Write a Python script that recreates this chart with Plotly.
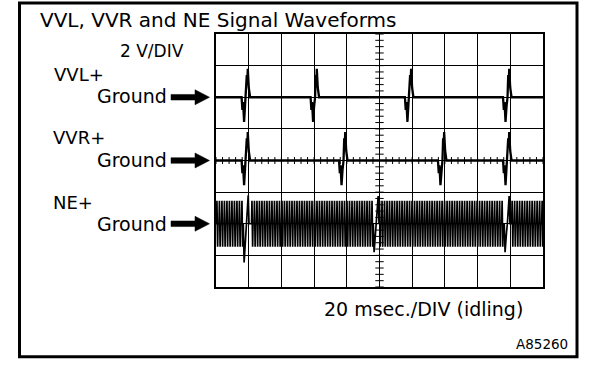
import plotly.graph_objects as go

# ---------------- data ----------------
MS_PER_DIV = 20          # 20 msec./DIV
VOLT_PER_DIV = 2         # 2 V/DIV

# zero-crossing time (ms) of each cam sensor pulse
VVL_PULSE_MS = [18.4, 60.6, 118.3, 178.3]
VVR_PULSE_MS = [18.4, 78.0, 138.5, 178.3]
# shape of one cam pulse: time offset (ms) and voltage (V)
PULSE_T_MS = [-2.75, -2.26, -1.83, -1.22, -0.61, 0.0, 0.43, 0.73, 1.04, 1.65, 2.45]
PULSE_V = [0.0, -0.8, -0.3, -1.56, -0.6, 0.0, 1.4, 0.8, 1.8, 0.6, 0.0]

# crank (NE) signal: missing-tooth positions and spike voltages
NE_GAP_MS = [18.4, 97.9, 178.0]
NE_GAP_LOW_V = [-2.45, -1.8, -1.8]
NE_GAP_HIGH_V = [1.8, 1.75, 1.75]
NE_TOOTH_PERIOD_MS = 1.53
NE_TOOTH_PHASE_MS = 0.3
NE_TOOTH_V = 1.45
TOOTH_T_FRAC = [0.0, 0.18, 0.45, 0.6]
TOOTH_V_FRAC = [0.0, 1.0, -1.0, 0.0]
GAP_T_MS = [-1.7, -1.2, -0.3, 0.2, 1.3, 1.8]

# trace ground levels (V on the 0..16 V screen, 8 divisions)
VVL_GROUND_V = 12
VVR_GROUND_V = 8
NE_GROUND_V = 4
SCREEN_MS = 200
SCREEN_V = 16


def cam_trace(pulses, ground):
    xs, ys = [0.0], [ground]
    for p in pulses:
        for dt, v in zip(PULSE_T_MS, PULSE_V):
            xs.append(p + dt)
            ys.append(ground + v)
    xs.append(SCREEN_MS)
    ys.append(ground)
    return xs, ys


def ne_trace(ground):
    events = []
    for g, lo, hi in zip(NE_GAP_MS, NE_GAP_LOW_V, NE_GAP_HIGH_V):
        vals = [0.0, lo, lo * 0.3, 0.0, hi, 0.0]
        events.append((g + GAP_T_MS[0], [(g + dt, v) for dt, v in zip(GAP_T_MS, vals)]))
    t = NE_TOOTH_PHASE_MS
    while t < SCREEN_MS:
        end = t + TOOTH_T_FRAC[-1] * NE_TOOTH_PERIOD_MS
        clash = any(g + GAP_T_MS[0] < end and t < g + GAP_T_MS[-1] for g in NE_GAP_MS)
        if not clash:
            events.append((t, [(t + f * NE_TOOTH_PERIOD_MS, a * NE_TOOTH_V)
                               for f, a in zip(TOOTH_T_FRAC, TOOTH_V_FRAC)]))
        t += NE_TOOTH_PERIOD_MS
    events.sort(key=lambda e: e[0])
    xs, ys = [0.0], [ground]
    for _, pts in events:
        for x, v in pts:
            xs.append(x)
            ys.append(ground + v)
    xs.append(SCREEN_MS)
    ys.append(ground)
    return xs, ys


# ---------------- figure ----------------
W, H = 608, 374
PLOT_X0, PLOT_X1 = 216, 543      # pixels of the graticule
PLOT_Y0, PLOT_Y1 = 34, 287
L, T = PLOT_X0, PLOT_Y0
R, B = W - PLOT_X1, H - PLOT_Y1
PW, PH = PLOT_X1 - PLOT_X0, PLOT_Y1 - PLOT_Y0


def px(x):
    return (x - PLOT_X0) / PW


def py(y):
    return (PLOT_Y1 - y) / PH


FONT = "DejaVu Sans"
fig = go.Figure()

vx, vy = cam_trace(VVL_PULSE_MS, VVL_GROUND_V)
rx, ry = cam_trace(VVR_PULSE_MS, VVR_GROUND_V)
nx, ny = ne_trace(NE_GROUND_V)

# graticule centre-line minor ticks
tick_y = [i * 0.4 for i in range(41)]
tick_x = [i * 4 for i in range(51)]
fig.add_trace(go.Scatter(x=[SCREEN_MS / 2] * len(tick_y), y=tick_y, mode="markers",
                         marker=dict(symbol="line-ew", size=6, line=dict(color="black", width=1)),
                         hoverinfo="skip", showlegend=False))
fig.add_trace(go.Scatter(x=tick_x, y=[SCREEN_V / 2] * len(tick_x), mode="markers",
                         marker=dict(symbol="line-ns", size=5, line=dict(color="black", width=1)),
                         hoverinfo="skip", showlegend=False))

fig.add_trace(go.Scatter(x=vx, y=vy, mode="lines", line=dict(color="black", width=2.3),
                         name="VVL+", showlegend=False))
fig.add_trace(go.Scatter(x=rx, y=ry, mode="lines", line=dict(color="black", width=2.3),
                         name="VVR+", showlegend=False))
fig.add_trace(go.Scatter(x=nx, y=ny, mode="lines", line=dict(color="black", width=1.7),
                         name="NE+", showlegend=False))

fig.update_xaxes(range=[0, SCREEN_MS], dtick=MS_PER_DIV, showgrid=True, gridcolor="black",
                 gridwidth=1, showline=True, linecolor="black", linewidth=2, mirror=True,
                 zeroline=False, showticklabels=False, ticks="", fixedrange=True)
fig.update_yaxes(range=[0, SCREEN_V], dtick=VOLT_PER_DIV, showgrid=True, gridcolor="black",
                 gridwidth=1, showline=True, linecolor="black", linewidth=2, mirror=True,
                 zeroline=False, showticklabels=False, ticks="", fixedrange=True)

shapes = [dict(type="rect", xref="paper", yref="paper",
               x0=px(19.5), x1=px(577), y0=py(356.7), y1=py(3),
               line=dict(color="black", width=3), fillcolor="rgba(0,0,0,0)", layer="above")]


def arrow(gy):
    pts = [(171, gy - 2.8), (195, gy - 2.8), (195, gy - 7.5), (209.5, gy),
           (195, gy + 7.5), (195, gy + 2.8), (171, gy + 2.8)]
    d = "M " + " L ".join(f"{px(a):.5f},{py(b):.5f}" for a, b in pts) + " Z"
    return dict(type="path", xref="paper", yref="paper", path=d,
                fillcolor="black", line=dict(color="black", width=0.5), layer="above")


for gv in (VVL_GROUND_V, VVR_GROUND_V, NE_GROUND_V):
    gy = PLOT_Y1 - gv / SCREEN_V * PH
    shapes.append(arrow(gy))


def label(text, x, y, size, anchor="left"):
    return dict(text=text, x=px(x), y=py(y), xref="paper", yref="paper", showarrow=False,
                xanchor=anchor, yanchor="middle", font=dict(family=FONT, size=size, color="black"))


annotations = [
    label("VVL, VVR and NE Signal Waveforms", 38, 20, 20),
    label("2 V/DIV", 186, 51, 17, "right"),
    label("VVL+", 52, 74, 18),
    label("Ground", 169, 96, 19, "right"),
    label("VVR+", 51, 137, 18),
    label("Ground", 169, 160, 19, "right"),
    label("NE+", 51, 203, 18),
    label("Ground", 169, 224, 19, "right"),
    label("20 msec./DIV (idling)", 322, 309, 19),
    label("A85260", 570, 344, 13.5, "right"),
]

fig.update_layout(width=W, height=H, margin=dict(l=L, r=R, t=T, b=B, pad=0),
                  paper_bgcolor="white", plot_bgcolor="white", shapes=shapes,
                  annotations=annotations, showlegend=False, hovermode=False)

# remove the browser's default 8px page margin so the figure sits at the window corner
fig.write_html("out.html", config={"displayModeBar": False, "staticPlot": True},
               post_script="document.body.style.margin='0';")
